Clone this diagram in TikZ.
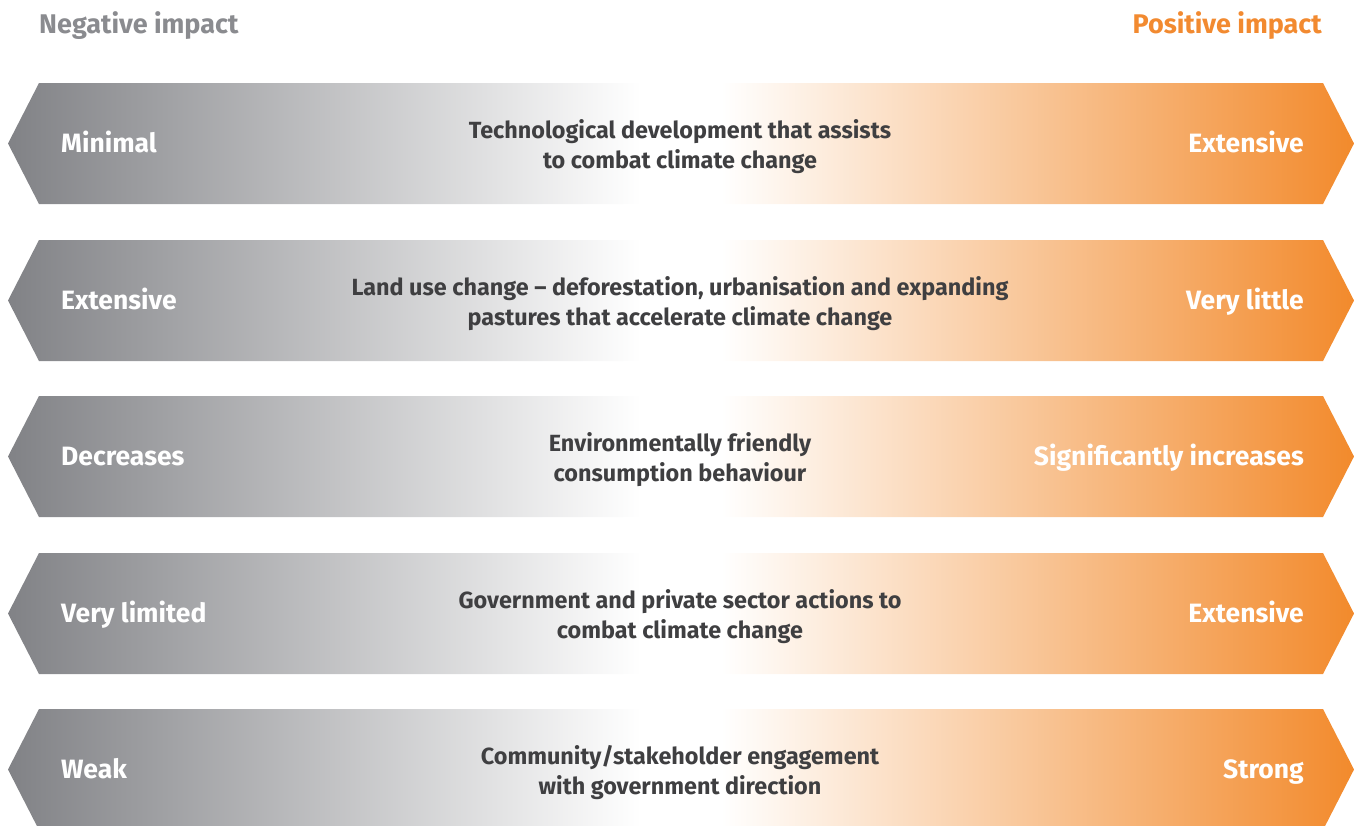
\documentclass[tikz,border=0pt]{standalone}
\usepackage{fontspec}
\setmainfont{Fira Sans}
\definecolor{gL}{HTML}{818286}
\definecolor{oR}{HTML}{F28A2C}
\definecolor{headgray}{HTML}{8A8B8F}
\definecolor{headorange}{HTML}{F28A30}
\definecolor{bodytext}{HTML}{3F3F41}
% band is 1346 wide, mapped onto 25bp..75bp of the shading
\pgfdeclarehorizontalshading{bandshade}{100bp}{%
  color(0bp)=(gL); color(25bp)=(gL); color(48.5bp)=(white);
  color(51.5bp)=(white); color(75bp)=(oR); color(100bp)=(oR)}
\tikzset{
  band/.style={shading=bandshade, draw=none},
  head/.style={font=\bfseries\fontsize{27}{32}\selectfont, inner sep=0pt},
  lefttag/.style={font=\bfseries\fontsize{26.5}{32}\selectfont, text=white, anchor=base west, inner sep=0pt},
  righttag/.style={font=\bfseries\fontsize{26.5}{32}\selectfont, text=white, anchor=base east, inner sep=0pt},
  midtext/.style={font=\bfseries\fontsize{23.4}{30.5}\selectfont, text=bodytext, align=center, inner sep=0pt},
}
\begin{document}
\begin{tikzpicture}[x=1pt,y=-1pt]
\useasboundingbox (0,0) rectangle (1354,825);
\clip (0,0) rectangle (1354,825);

\node[head, text=headgray, anchor=base west] (neg) at (39,33) {Negative impact};
\node[head, text=headorange, anchor=base east] (pos) at (1322,33) {Positive impact};

\foreach \i/\yt/\l/\m/\r in {
  1/83/Minimal/{Technological development that assists\\to combat climate change}/Extensive,
  2/240/Extensive/{Land use change – deforestation, urbanisation and expanding\\pastures that accelerate climate change}/Very little,
  3/396/Decreases/{Environmentally friendly\\consumption behaviour}/Significantly increases,
  4/553/Very limited/{Government and private sector actions to\\combat climate change}/Extensive,
  5/709/Weak/{Community/stakeholder engagement\\with government direction}/Strong}
{
  \pgfmathsetmacro{\yc}{\yt+60.5}
  \pgfmathsetmacro{\yb}{\yt+121}
  \pgfmathsetmacro{\ym}{\yt+63.5}
  \pgfmathsetmacro{\ybase}{\yt+69.5}
  \path[band] (8,\yc) -- (39,\yt) -- (1323,\yt) -- (1354,\yc) -- (1323,\yb) -- (39,\yb) -- cycle;
  \node[lefttag] (left\i) at (61,\ybase) {\l};
  \node[righttag] (right\i) at (1304,\ybase) {\r};
  \node[midtext] (mid\i) at (680,\ym) {\m};
}
\end{tikzpicture}
\end{document}
